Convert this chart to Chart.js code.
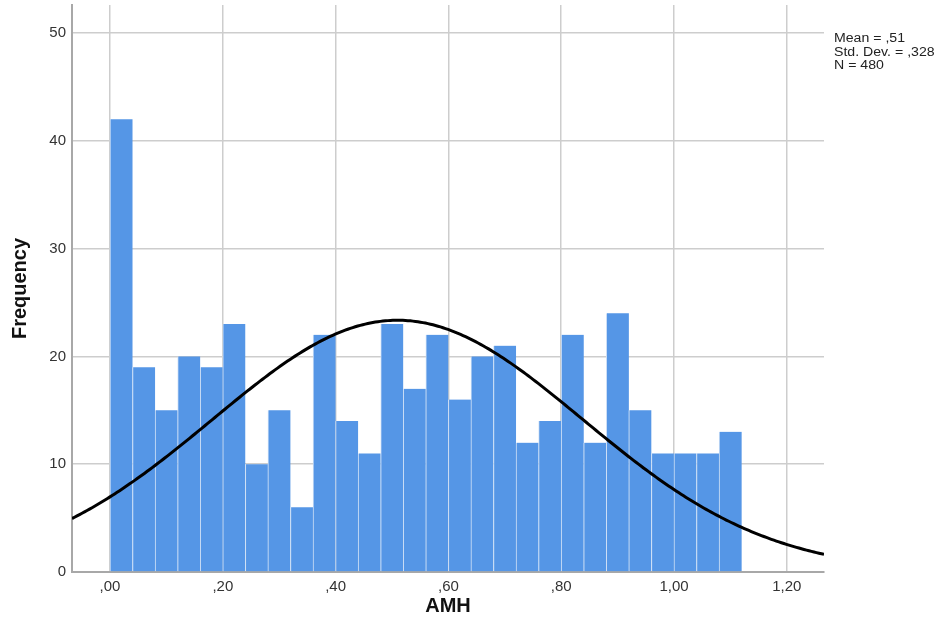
<!DOCTYPE html>
<html>
<head>
<meta charset="utf-8">
<title>AMH histogram</title>
<script src="https://cdn.jsdelivr.net/npm/chart.js@4.4.1/dist/chart.umd.min.js"></script>
<style>
  html, body { margin: 0; padding: 0; background: #fff; }
  #wrap { width: 942px; height: 621px; position: relative; }
</style>
</head>
<body>
<div id="wrap"><canvas id="c" width="942" height="621"></canvas></div>
<script>
// Histogram bins for AMH (width 0.04, starting at 0)
const binStart = 0;
const binWidth = 0.04;
const frequencies = [42, 19, 15, 20, 19, 23, 10, 15, 6, 22, 14, 11, 23, 17, 22, 16, 20, 21, 12, 14, 22, 12, 24, 15, 11, 11, 11, 13];

// Summary statistics shown beside the plot
const statMean = 0.51;
const statSD = 0.328;
const statN = 480;
const statLines = ['Mean = ,51', 'Std. Dev. = ,328', 'N = 480'];

// Axis ranges and ticks
const xMin = -0.0674, xMax = 1.266, xStep = 0.2;
const yMin = 0, yMax = 52.6, yStep = 10;

const barData = frequencies.map((f, i) => ({ x: binStart + binWidth * (i + 0.5), y: f }));

// Normal curve scaled to counts: N * binWidth * pdf(x)
const curveData = [];
for (let k = 0; k <= 300; k++) {
  const x = xMin + (xMax - xMin) * k / 300;
  const z = (x - statMean) / statSD;
  const y = statN * binWidth * Math.exp(-0.5 * z * z) / (statSD * Math.sqrt(2 * Math.PI));
  curveData.push({ x, y });
}

function fmtComma(v) {
  let s = (Math.round(v * 100) / 100).toFixed(2).replace('.', ',');
  if (s.startsWith('0,')) s = s.slice(1);
  return s;
}

const statsPlugin = {
  id: 'statsText',
  afterDraw(chart) {
    const ctx = chart.ctx;
    ctx.save();
    ctx.fillStyle = '#222';
    ctx.font = '12.5px "Liberation Sans", Arial, sans-serif';
    ctx.textBaseline = 'middle';
    ctx.textAlign = 'left';
    ctx.translate(834, 0);
    ctx.scale(1.13, 1);
    statLines.forEach((t, i) => ctx.fillText(t, 0, 39 + i * 13.5));
    ctx.restore();
  }
};

Chart.defaults.font.family = '"Liberation Sans", Arial, sans-serif';

new Chart(document.getElementById('c'), {
  data: {
    datasets: [
      {
        type: 'line',
        data: curveData,
        borderColor: '#000',
        borderWidth: 3,
        pointRadius: 0,
        fill: false,
        tension: 0,
        order: 0
      },
      {
        type: 'bar',
        data: barData,
        backgroundColor: '#5596e6',
        borderColor: '#cfe0f6',
        borderWidth: { left: 1, right: 0, top: 0, bottom: 0 },
        barPercentage: 1,
        categoryPercentage: 1,
        order: 1
      }
    ]
  },
  options: {
    responsive: false,
    animation: false,
    layout: { padding: { top: 5, right: 118, left: 0, bottom: 0 } },
    plugins: { legend: { display: false }, tooltip: { enabled: false } },
    scales: {
      x: {
        type: 'linear',
        min: xMin,
        max: xMax,
        offset: false,
        afterFit(s) { s.height = 49; },
        ticks: {
          stepSize: xStep,
          includeBounds: false,
          color: '#333',
          font: { size: 15 },
          padding: 6,
          maxRotation: 0,
          callback: v => fmtComma(v)
        },
        grid: { color: '#cdcdcd', lineWidth: 1.5, drawTicks: false, offset: false },
        border: { display: true, color: '#a8a8a8', width: 2 },
        title: {
          display: true,
          text: 'AMH',
          color: '#111',
          font: { size: 20, weight: 'bold' },
          padding: { top: 0, bottom: 3 }
        }
      },
      y: {
        min: yMin,
        max: yMax,
        afterFit(s) { s.width = 72; s.paddingTop = 0; },
        ticks: {
          stepSize: yStep,
          includeBounds: false,
          color: '#333',
          font: { size: 15 },
          padding: 6
        },
        grid: { color: '#cdcdcd', lineWidth: 1.5, drawTicks: false },
        border: { display: true, color: '#a8a8a8', width: 2 },
        title: {
          display: true,
          text: 'Frequency',
          color: '#111',
          font: { size: 20, weight: 'bold' },
          padding: { top: 8, bottom: 0 }
        }
      }
    }
  },
  plugins: [statsPlugin]
});
</script>
</body>
</html>
